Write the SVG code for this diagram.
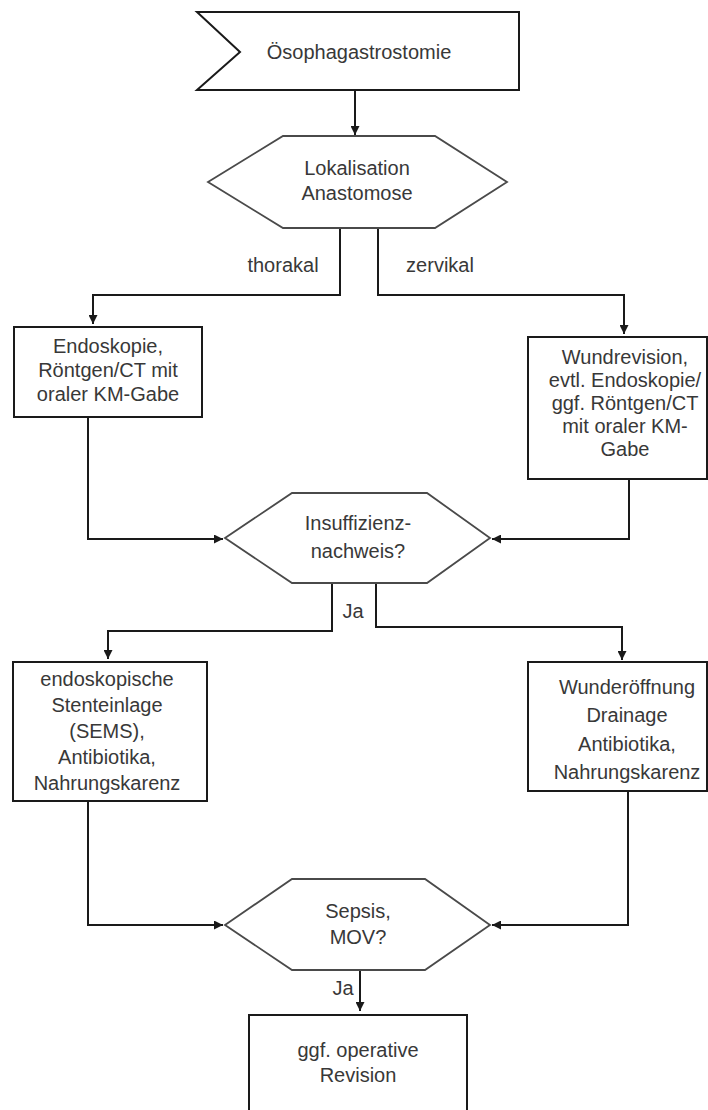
<svg xmlns="http://www.w3.org/2000/svg" width="708" height="1110" viewBox="0 0 708 1110">
<style>
.box{fill:#fff;stroke:#1a1a1a;stroke-width:2}
.hex{fill:#fff;stroke:#4a4a4a;stroke-width:1.8}
.t{font-family:"Liberation Sans",Arial,sans-serif;font-size:20px;fill:#383838;text-anchor:middle}
.c{fill:none;stroke:#1a1a1a;stroke-width:2}
</style>
<defs>
<marker id="ah" viewBox="0 0 10 10" refX="10" refY="5" markerWidth="10" markerHeight="9" markerUnits="userSpaceOnUse" orient="auto">
<path d="M0,0 L10,5 L0,10 z" fill="#1a1a1a"/>
</marker>
</defs>
<rect width="708" height="1110" fill="#fff"/>
<g id="connectors">
<path class="c" marker-end="url(#ah)" d="M355,90 V135"/>
<path class="c" marker-end="url(#ah)" d="M340,228 V295 H93 V324"/>
<path class="c" marker-end="url(#ah)" d="M378,228 V295 H624 V334"/>
<path class="c" marker-end="url(#ah)" d="M88,417 V539 H223"/>
<path class="c" marker-end="url(#ah)" d="M629,479 V539 H492"/>
<path class="c" marker-end="url(#ah)" d="M332,583 V631 H108 V659"/>
<path class="c" marker-end="url(#ah)" d="M376,583 V627 H622 V660"/>
<path class="c" marker-end="url(#ah)" d="M88,801 V925 H223"/>
<path class="c" marker-end="url(#ah)" d="M628,791 V925 H492"/>
<path class="c" marker-end="url(#ah)" d="M360,970 V1011"/>
<text class="t" x="283" y="272">thorakal</text>
<text class="t" x="440" y="272">zervikal</text>
<text class="t" x="353" y="618">Ja</text>
<text class="t" x="343" y="995">Ja</text>
</g>
<g id="start">
<polygon class="box" points="197,12 519,12 519,90 197,90 240,52"/>
<text class="t" x="359" y="59">Ösophagastrostomie</text>
</g>
<g id="lokalisation">
<polygon class="hex" points="208,182 283,136 435,136 507,182 435,228 283,228"/>
<text class="t" x="357" y="175">Lokalisation</text>
<text class="t" x="357" y="200">Anastomose</text>
</g>
<g id="thorakal-box">
<rect class="box" x="14" y="327" width="188" height="90"/>
<text class="t" x="108" y="353">Endoskopie,</text>
<text class="t" x="108" y="377">Röntgen/CT mit</text>
<text class="t" x="108" y="401">oraler KM-Gabe</text>
</g>
<g id="zervikal-box">
<rect class="box" x="528" y="337" width="179" height="142"/>
<text class="t" x="625" y="364">Wundrevision,</text>
<text class="t" x="625" y="387">evtl. Endoskopie/</text>
<text class="t" x="625" y="410">ggf. Röntgen/CT</text>
<text class="t" x="625" y="433">mit oraler KM-</text>
<text class="t" x="625" y="456">Gabe</text>
</g>
<g id="insuffizienz">
<polygon class="hex" points="225,538 292,493 427,493 490,538 427,583 292,583"/>
<text class="t" x="358" y="530">Insuffizienz-</text>
<text class="t" x="358" y="558">nachweis?</text>
</g>
<g id="stent-box">
<rect class="box" x="13" y="662" width="194" height="139"/>
<text class="t" x="107" y="686">endoskopische</text>
<text class="t" x="107" y="712">Stenteinlage</text>
<text class="t" x="107" y="738">(SEMS),</text>
<text class="t" x="107" y="764">Antibiotika,</text>
<text class="t" x="107" y="790">Nahrungskarenz</text>
</g>
<g id="wunde-box">
<rect class="box" x="528" y="662" width="179" height="129"/>
<text class="t" x="627" y="694">Wunderöffnung</text>
<text class="t" x="627" y="722">Drainage</text>
<text class="t" x="627" y="751">Antibiotika,</text>
<text class="t" x="627" y="779">Nahrungskarenz</text>
</g>
<g id="sepsis">
<polygon class="hex" points="225,925 292,879 425,879 490,925 425,970 292,970"/>
<text class="t" x="358" y="918">Sepsis,</text>
<text class="t" x="358" y="944">MOV?</text>
</g>
<g id="revision-box">
<rect class="box" x="249" y="1015" width="218" height="105"/>
<text class="t" x="358" y="1057">ggf. operative</text>
<text class="t" x="358" y="1082">Revision</text>
</g>
</svg>
